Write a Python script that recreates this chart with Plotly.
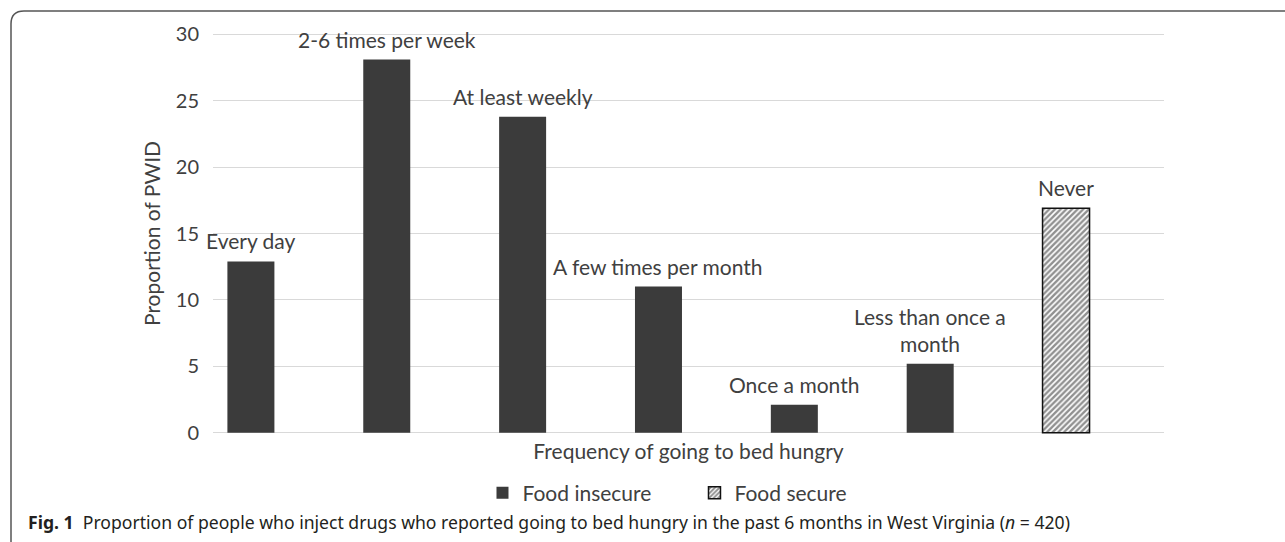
import plotly.graph_objects as go

# ---- data ----
categories = ["Every day", "2-6 times per week", "At least weekly",
              "A few times per month", "Once a month",
              "Less than once a month", "Never"]
bar_labels = ["Every day", "2-6 times per week", "At least weekly",
              "A few times per month", "Once a month",
              "Less than once a<br>month", "Never"]
insecure_cats = categories[:6]
insecure_vals = [12.9, 28.1, 23.8, 11.0, 2.1, 5.2]
secure_cats = ["Never"]
secure_vals = [16.9]
y_ticks = [0, 5, 10, 15, 20, 25, 30]

# ---- layout constants ----
W, H = 1285, 542
ML, MR, MT, MB = 213, 121, 33, 108
PW, PH = W - ML - MR, H - MT - MB
BAR_W = 0.346
BAR_OFF = -0.394
CAT_PX = PW / len(categories)
LABEL_XSHIFT = (BAR_OFF + BAR_W / 2) * CAT_PX

def px_x(px):
    return (px - ML) / PW

def px_y(py):
    return (H - MB - py) / PH

FONT = "Lato, 'Open Sans', sans-serif"
TXT = "#404040"
BAR = "#3b3b3b"

fig = go.Figure()
fig.add_trace(go.Bar(
    x=insecure_cats, y=insecure_vals, name="Food insecure",
    width=BAR_W, offset=BAR_OFF,
    marker=dict(color=BAR, line=dict(width=0)),
))
fig.add_trace(go.Bar(
    x=secure_cats, y=secure_vals, name="Food secure",
    width=BAR_W, offset=BAR_OFF,
    marker=dict(color="white", line=dict(color="#111111", width=1.5),
                pattern=dict(shape="/", fgcolor="#222222", bgcolor="white",
                             size=4, solidity=0.6)),
))

all_vals = insecure_vals + secure_vals
annotations = []
for cat, lab, v in zip(categories, bar_labels, all_vals):
    annotations.append(dict(
        x=cat, y=v, xref="x", yref="y", text=lab, showarrow=False,
        xanchor="center", yanchor="bottom", xshift=LABEL_XSHIFT, yshift=6,
        font=dict(family=FONT, size=21, color=TXT),
    ))

annotations.append(dict(
    xref="paper", yref="paper", x=px_x(26), y=px_y(522),
    xanchor="left", yanchor="middle", showarrow=False,
    text="<b>Fig. 1</b>  Proportion of people who inject drugs who reported going to bed hungry "
         "in the past 6 months in West Virginia (<i>n</i> = 420)",
    font=dict(family="'Noto Sans', sans-serif", size=17.6, color="#231f20"),
))

shapes = [dict(
    type="path", xref="paper", yref="paper",
    path=(f"M {px_x(1300)} {px_y(11)} L {px_x(24)} {px_y(11)} "
          f"Q {px_x(11)} {px_y(11)} {px_x(11)} {px_y(24)} "
          f"L {px_x(11)} {px_y(560)}"),
    line=dict(color="#555555", width=1.5),
)]

fig.update_layout(
    width=W, height=H,
    margin=dict(l=ML, r=MR, t=MT, b=MB, pad=0),
    paper_bgcolor="white", plot_bgcolor="white",
    barmode="overlay",
    font=dict(family=FONT, color=TXT, size=21),
    xaxis=dict(
        categoryorder="array", categoryarray=categories,
        range=[-0.5, len(categories) - 0.5],
        showticklabels=False, showgrid=False, zeroline=False, showline=False,
        ticks="",
        title=dict(text="Frequency of going to bed hungry",
                   font=dict(family=FONT, size=21, color=TXT), standoff=10),
    ),
    yaxis=dict(
        range=[-0.1, 30.1], tickvals=y_ticks,
        showgrid=True, gridcolor="#d9d9d9", gridwidth=1.3,
        zeroline=False, showline=False, ticks="",
        ticklabelstandoff=13,
        tickfont=dict(family=FONT, size=20, color=TXT),
        title=dict(text="Proportion of PWID",
                   font=dict(family=FONT, size=21, color=TXT), standoff=9),
    ),
    legend=dict(
        orientation="h", x=0.5063, xanchor="center", y=px_y(493), yanchor="middle",
        font=dict(family=FONT, size=21, color=TXT),
        bgcolor="rgba(0,0,0,0)", itemwidth=30, entrywidth=167,
    ),
    annotations=annotations,
    shapes=shapes,
)

fig.write_html("out.html")
